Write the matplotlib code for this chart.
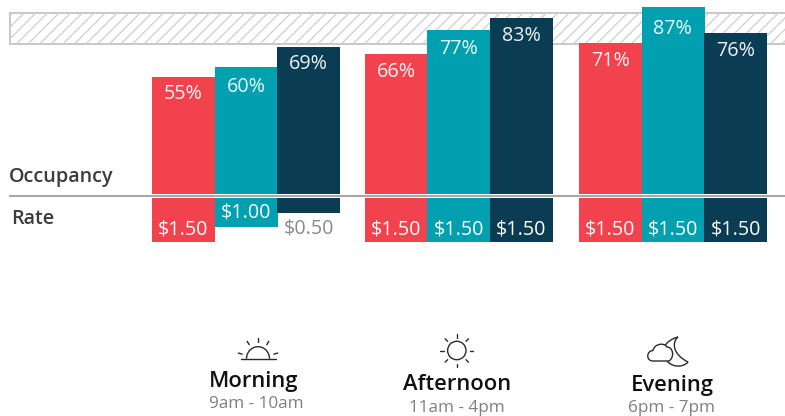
import numpy as np
import matplotlib
matplotlib.use("Agg")
import matplotlib.pyplot as plt
from matplotlib.patches import Rectangle, Circle, Arc, PathPatch
from matplotlib.path import Path

plt.rcParams['font.family'] = ['Open Sans', 'DejaVu Sans']

W, H = 785, 416
periods = ["Morning", "Afternoon", "Evening"]
hours = ["9am - 10am", "11am - 4pm", "6pm - 7pm"]
occupancy_morning = [55, 60, 69]
occupancy_afternoon = [66, 77, 83]
occupancy_evening = [71, 87.8, 76]
occupancy_labels = [["55%", "60%", "69%"], ["66%", "77%", "83%"], ["71%", "87%", "76%"]]
rate_morning = [1.50, 1.00, 0.50]
rate_afternoon = [1.50, 1.50, 1.50]
rate_evening = [1.50, 1.50, 1.50]
target_low, target_high = 70.6, 85.2

colors = ["#F1424E", "#00A0B0", "#0A3D53"]
group_left = [152.0, 364.8, 579.0]
bw = 62.6
SCALE = 2.125

# distance in px from bar top to label centre
occ_dy = [[17, 20, 17], [18, 19, 18], [18, 22, 19]]

fig = plt.figure(figsize=(W / 100, H / 100), dpi=100, facecolor="white")

def axpx(x0, ytop, x1, ybot):
    ax = fig.add_axes([x0 / W, 1 - ybot / H, (x1 - x0) / W, (ybot - ytop) / H])
    ax.axis("off")
    return ax

# occupancy panel: baseline at y=194 px
ax = axpx(0, 0, W, 194)
ax.set_xlim(0, W)
ax.set_ylim(0, 194 / SCALE)
band = Rectangle((9.5, target_low), W, target_high - target_low, facecolor="white",
                 edgecolor="#C8C8C8", lw=1.4, zorder=1)
ax.add_patch(band)
band_h_px = (target_high - target_low) * SCALE
for x0 in np.arange(-30, W + 40, 11.6):
    ln, = ax.plot([x0, x0 + band_h_px], [target_low, target_high], color="#D2D2D2", lw=1.0, zorder=1.1)
    ln.set_clip_path(band)
for g, vals in enumerate([occupancy_morning, occupancy_afternoon, occupancy_evening]):
    for i, v in enumerate(vals):
        x = group_left[g] + i * bw
        ax.bar(x, v, bw + 0.3, align="edge", color=colors[i], zorder=2)
        ax.annotate(occupancy_labels[g][i], (x + bw / 2, v), xytext=(0, -occ_dy[g][i] * 0.72),
                    textcoords="offset points", ha="center", va="center", color="white",
                    fontsize=14.2, zorder=3, alpha=0.93, annotation_clip=False)

# rate panel: starts at y=198 px, grows downward
ar = axpx(0, 198, W, 260)
ar.set_xlim(0, W)
ar.set_ylim(62 / 29.33, 0)
for g, vals in enumerate([rate_morning, rate_afternoon, rate_evening]):
    for i, v in enumerate(vals):
        x = group_left[g] + i * bw
        ar.bar(x, v, bw + 0.3, align="edge", color=colors[i])
        small = v < 0.75
        dy = -16 if small else (15 if v < 1.2 else 12)
        ar.annotate(f"${v:.2f}", (x + bw / 2, v), xytext=(0, dy * 0.72),
                    textcoords="offset points", ha="center", va="center",
                    color="#8A8A8A" if small else "white", fontsize=14.2, annotation_clip=False)

# overlay in pixel coordinates for text, divider and icons
ov = fig.add_axes([0, 0, 1, 1], zorder=5)
ov.axis("off")
ov.patch.set_alpha(0)
ov.set_xlim(0, W)
ov.set_ylim(H, 0)
ov.plot([9, W], [196.3, 196.3], color="#A8A8A8", lw=1.5, solid_capstyle="butt")
ov.text(9, 177, "Occupancy", fontsize=14.2, fontweight="semibold", color="#3C3C3C", ha="left", va="center")
ov.text(11, 219.5, "Rate", fontsize=14.2, fontweight="semibold", color="#3C3C3C", ha="left", va="center")

centers = [254, 457, 672.5]
hour_centers = [256, 457, 672]
title_y = [382, 385, 385]
sub_y = [404.5, 407.5, 407.5]
for c, hc, p, h, ty, sy in zip(centers, hour_centers, periods, hours, title_y, sub_y):
    ov.text(c, ty, p, fontsize=15.8, fontweight="semibold", color="#111111", ha="center", va="center")
    ov.text(hc, sy, h, fontsize=12.3, color="#808080", ha="center", va="center")

DK = "#2A2A2A"
ic = dict(color=DK, lw=1.0, solid_capstyle="round")
# sunrise
cx, cy = 258, 358.7
ov.plot([cx - 17.5, cx + 17.5], [cy, cy], **ic)
ov.add_patch(Arc((cx, cy), 23, 24, theta1=180, theta2=360, color=DK, lw=1.0))
for a in [-90, -58, -122, -16, -164]:
    t = np.radians(a)
    ov.plot([cx + 16.5 * np.cos(t), cx + 20.5 * np.cos(t)], [cy + 16.5 * np.sin(t), cy + 20.5 * np.sin(t)], **ic)
# sun
cx, cy = 456.8, 350.5
ov.add_patch(Circle((cx, cy), 9.2, fill=False, ec=DK, lw=1.0))
for a in range(0, 360, 45):
    t = np.radians(a)
    ov.plot([cx + 13 * np.cos(t), cx + 16.5 * np.cos(t)], [cy + 13 * np.sin(t), cy + 16.5 * np.sin(t)], **ic)
# moon with cloud
C4 = Path.CURVE4
moon = Path([(678, 337), (672, 342), (672, 354), (688, 362),
             (683, 368), (670, 368), (665, 358),
             (660, 348), (667, 340), (678, 337)],
            [Path.MOVETO, C4, C4, C4, C4, C4, C4, C4, C4, C4])
ov.add_patch(PathPatch(moon, fill=False, ec=DK, lw=1.0))
cloud = Path([(653, 361), (646, 361), (646, 351), (653, 350.5),
              (654, 344), (664, 342), (667, 347),
              (673, 347), (675, 357), (669, 361),
              (653, 361)],
             [Path.MOVETO, C4, C4, C4, C4, C4, C4, C4, C4, C4, Path.LINETO])
ov.add_patch(PathPatch(cloud, facecolor="white", ec=DK, lw=1.0))

fig.savefig("out.png", dpi=100)
